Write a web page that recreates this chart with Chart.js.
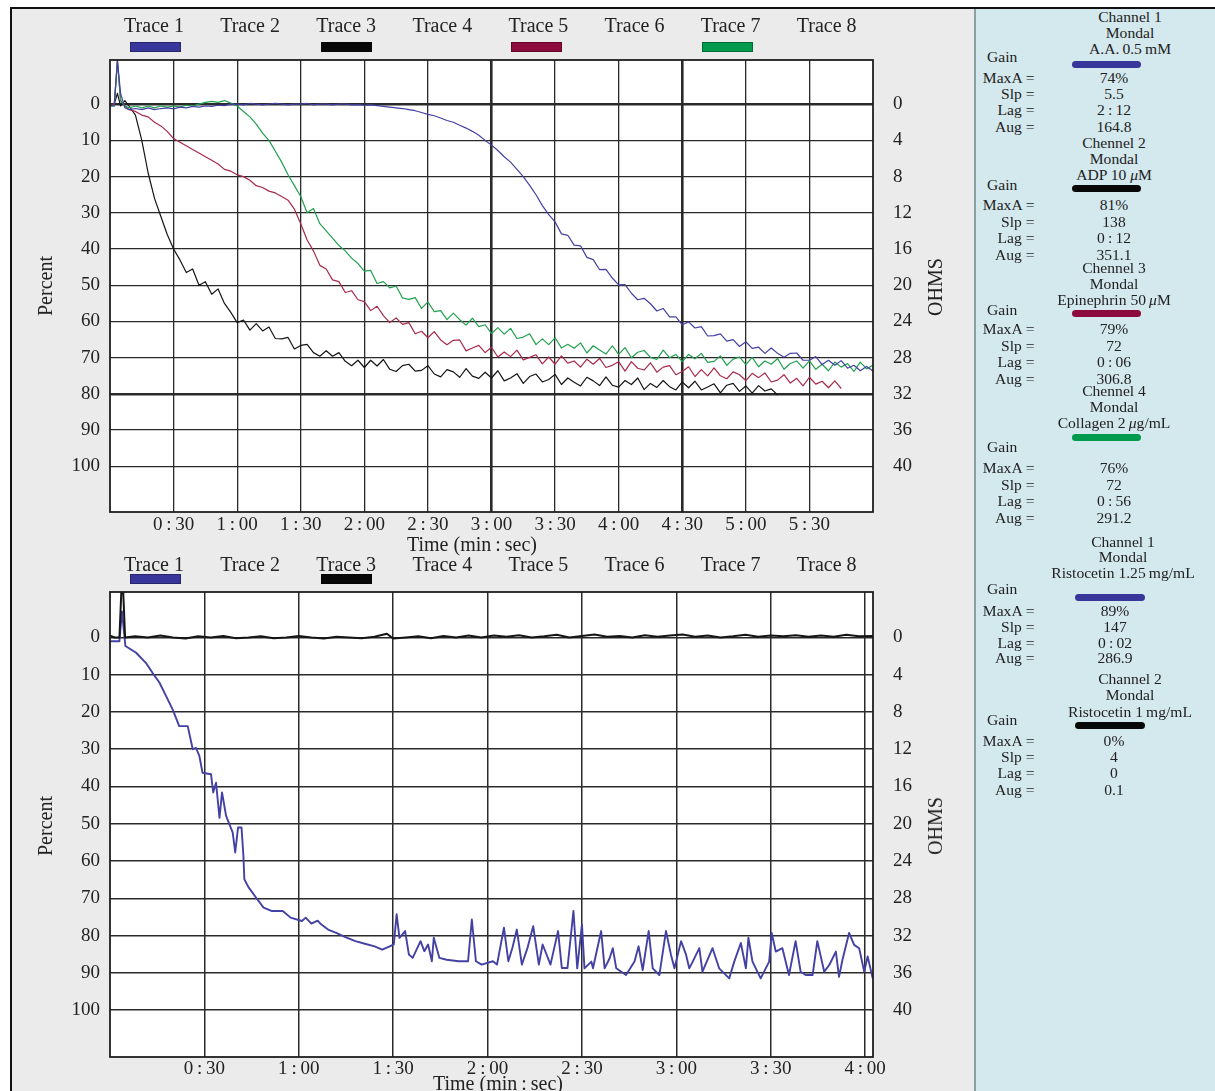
<!DOCTYPE html>
<html>
<head>
<meta charset="utf-8">
<script src="https://cdn.jsdelivr.net/npm/chart.js@4.4.1/dist/chart.umd.min.js"></script>
<style>
  body { margin: 0; width: 1215px; height: 1091px; overflow: hidden; background: #fff;
         font-family: 'Liberation Serif', 'DejaVu Serif', serif; color: #222; position: relative; }
  #frame { position: absolute; left: 10px; top: 7px; width: 1205px; height: 1084px;
           border-top: 2px solid #111; border-left: 2px solid #111; background: #ebebeb; }
  #panel { position: absolute; left: 974px; top: 9px; width: 241px; height: 1082px;
           background: #d4e9ee; border-left: 2px solid #8d9ea4; }
  canvas { position: absolute; left: 12px; }
  #topChart { top: 10px; }
  #bottomChart { top: 550px; }
  .t { position: absolute; white-space: nowrap; line-height: 1; }
  .bar { position: absolute; height: 10px; box-sizing: border-box; border: 1px solid rgba(0,0,0,0.3); }
  .pill { position: absolute; height: 7px; border-radius: 3.5px; }
</style>
</head>
<body>
<div id="frame"></div>
<div id="panel"></div>
<canvas id="topChart" width="960" height="540"></canvas>
<canvas id="bottomChart" width="960" height="541"></canvas>
<script>
'use strict';

/* Axis ticks */
const percentTicks = [0, 10, 20, 30, 40, 50, 60, 70, 80, 90, 100];
const ohmTicks = [0, 4, 8, 12, 16, 20, 24, 28, 32, 36, 40];
const topTimeTicks = [30, 60, 90, 120, 150, 180, 210, 240, 270, 300, 330];
const topTimeLabels = ['0:30', '1:00', '1:30', '2:00', '2:30', '3:00', '3:30', '4:00', '4:30', '5:00', '5:30'];
const bottomTimeTicks = [30, 60, 90, 120, 150, 180, 210, 240];
const bottomTimeLabels = ['0:30', '1:00', '1:30', '2:00', '2:30', '3:00', '3:30', '4:00'];
const traceNames = ['Trace 1', 'Trace 2', 'Trace 3', 'Trace 4', 'Trace 5', 'Trace 6', 'Trace 7', 'Trace 8'];

/* Top chart: sample times (s) shared by the four traces */
const topTimes = [0, 2, 3.5, 5, 7, 9, 12, 15, 18, 21, 24, 27,
  30, 33, 36, 39, 42, 45, 48, 51, 54, 57,
  60, 63, 66, 69, 72, 75, 78, 81, 84, 87,
  90, 93, 96, 99, 102, 105, 108, 111, 114, 117,
  120, 123, 126, 129, 132, 135, 138, 141, 144, 147,
  150, 153, 156, 159, 162, 165, 168, 171, 174, 177,
  180, 183, 186, 189, 192, 195, 198, 201, 204, 207,
  210, 213, 216, 219, 222, 225, 228, 231, 234, 237,
  240, 243, 246, 249, 252, 255, 258, 261, 264, 267,
  270, 273, 276, 279, 282, 285, 288, 291, 294, 297,
  300, 303, 306, 309, 312, 315, 318, 321, 324, 327,
  330, 333, 336, 339, 342, 345, 348, 351, 354, 357,
  360];

// Trace 1 - A.A. 0.5 mM (percent)
const topBlue = [0.5, 0.5, -12, -3, 1, 1.5, 1.2, 1.5, 1, 1.5, 1.2, 1,
  1.3, 0.8, 1, 0.6, 0.8, 0.5, 0.6, 0.3, 0.4, 0,
  0, 0.2, -0.2, 0, 0.2, 0, -0.2, 0, 0.2, 0,
  0, -0.2, 0.2, 0, 0, 0.2, 0, 0, 0.2, 0.1,
  0.3, 0.2, 0.4, 0.6, 0.8, 1, 1.2, 1.5, 1.8, 2.3,
  2.8, 3.2, 3.8, 4.5, 5, 5.8, 6.6, 7.5, 8.6, 10,
  11.3, 12.8, 14.5, 16, 18, 20, 22.4, 25, 28, 30.5,
  32.5, 35.8, 36.2, 38.9, 39.1, 42.3, 42.9, 45.7, 45.6, 48,
  49.9, 49.8, 52.2, 54, 53.6, 55.1, 57.1, 56.4, 58.7, 58.7,
  60.9, 60.1, 61.8, 61.4, 64, 63.9, 63.4, 65.4, 65, 66.9,
  65.6, 67.4, 67.1, 68.8, 67.3, 68.8, 69.9, 68.8, 68.7, 70.7,
  70.7, 69.7, 71.9, 70.7, 72.1, 70.8, 72.9, 72.1, 73.6, 72.4,
  73.7];

// Trace 3 - ADP 10 uM
const topBlack = [0.5, 0, -3, 0.5, -1, 0.5, 3, 10, 19, 26, 31, 36,
  40, 43, 46.5, 45.5, 50, 49, 52.5, 51, 55, 57.5,
  60.3, 59.6, 62.4, 60.6, 62.6, 61.5, 64.7, 64.8, 64.4, 67.6,
  66.6, 66.3, 68.6, 69.6, 68.1, 69.6, 68.6, 71, 72.2, 70.7,
  72.7, 70.7, 72.3, 70.5, 73.2, 73.8, 72.2, 71.8, 73.7, 73.5,
  72.2, 74.5, 75.3, 73.3, 73.9, 75.4, 73, 75.1, 75.7, 74,
  75.6, 73.6, 76.4, 75.6, 74.4, 77.1, 75.2, 74.5, 76.7, 76,
  74.6, 77.4, 75.6, 76.8, 77.8, 75.4, 76.4, 77.7, 75.3, 77.6,
  78.1, 76.3, 77.4, 75.6, 78.8, 77.1, 78.2, 76.3, 78, 78.9,
  76.7, 78.3, 76.5, 78.9, 78.1, 77.2, 79.7, 77.6, 77.1, 79.3,
  77.8, 79.8, 77.7, 79.2, 78.6, 80.3, null, null, null, null,
  null, null, null, null, null, null, null, null, null, null,
  null];

// Trace 5 - Epinephrin 50 uM
const topRed = [0, 0, -12, -1, 0.5, 1.5, 2, 3, 3.5, 5, 6, 7.5,
  9.5, 10.5, 11.5, 12.5, 13.5, 14.5, 15.5, 16.5, 18, 18.5,
  19.5, 20, 21, 22.5, 23, 24, 24.5, 25.5, 26.5, 29,
  33, 37.5, 40.5, 44.5, 45.5, 48.5, 49, 52, 51.5, 54,
  54.5, 57, 55.8, 58.4, 60.3, 59, 60.8, 60.3, 63.4, 62.7,
  64.5, 62.8, 65.1, 66.4, 65.2, 65.1, 68.1, 67.3, 66.6, 68.6,
  67.1, 69.8, 68.4, 69.7, 67.9, 70.6, 69.9, 69.2, 71.7, 69.8,
  71.8, 69.5, 71.5, 70.9, 72.6, 70.4, 71.8, 70.2, 72.7, 72.1,
  71.1, 73.7, 71.1, 72.9, 73.4, 71.4, 74, 72.6, 72.2, 74.7,
  73.8, 72.5, 75.2, 73.3, 75, 72.8, 75, 75.8, 73.9, 74.7,
  76.3, 74.3, 75.5, 74.2, 76.7, 76.2, 74.7, 77, 75.7, 77.8,
  75.4, 77.3, 76.5, 78.3, 76.4, 78.5, null, null, null, null,
  null];

// Trace 7 - Collagen 2 ug/mL
const topGreen = [0.5, 0.5, -12, -1, 0.5, 1, 0.5, 1, 0.5, 1, 0.5, 0.8,
  0.5, 0.8, 0.3, 0.5, 0, -0.5, -0.8, -0.5, -1, -0.3,
  0.5, 2, 3.5, 5.5, 8, 10, 13, 16, 19.5, 22.5,
  25.5, 30, 28.8, 33, 35, 37, 39, 40.5, 42.5, 44,
  46.1, 45.9, 49.5, 49, 50.7, 50.2, 53.5, 53.9, 53.4, 56.4,
  54.6, 57.3, 57, 59.5, 57.7, 59.5, 61, 59.1, 61.4, 60.9,
  63.3, 61.7, 63.5, 61.9, 64.7, 64.3, 63.4, 66.4, 64.8, 66.4,
  64.5, 67.3, 66.3, 67.4, 65.9, 68.7, 66.7, 67.9, 69, 66.7,
  69.1, 67.2, 70, 68.5, 68, 69.9, 70.5, 67.9, 70, 69.1,
  71.1, 69.1, 70.3, 68.8, 71.3, 71, 69.5, 72.1, 70.4, 69.8,
  71.9, 69.9, 72.5, 70.9, 71.8, 70.2, 73.2, 71.6, 70.9, 72.9,
  70.9, 73.2, 71.8, 73.6, 71.2, 72.6, 71.6, 73.8, 71.2, 73.1,
  72];

/* Bottom chart */
// Trace 1 - Ristocetin 1.25 mg/mL
const bottomBlueTimes = [0, 3, 3.8, 4.9, 8.3, 11.4, 13.5, 15.7, 17.8, 19.9,
  22, 24.7, 26.3, 27.3, 28.4, 29.4, 32.1, 32.8, 33.7, 34.8,
  35.6, 36.9, 39, 39.8, 40.7, 41.8, 42.4, 42.7, 44, 46.4,
  48.8, 51.3, 54.9, 57.4, 61, 62.2, 64, 66, 67.1, 69.5,
  71.9, 75, 78, 81, 84.1, 86.5, 88.9, 90.2, 91.1, 92,
  93.8, 95, 96.2, 98.7, 99.9, 101.1, 102.3, 102.9, 104.7, 107,
  110.8, 113.8, 115, 116.3, 118.1, 121.7, 123, 125.2, 126.6, 127.9,
  129.3, 130.9, 132.7, 134.5, 136.3, 137.5, 140, 142.4, 143.6, 145.4,
  147.3, 148.5, 150, 150.8, 153, 153.5, 156.1, 157.2, 158.8, 159.8,
  160.9, 164, 166.7, 168, 169.3, 171.2, 172.5, 174.6, 176.7, 178.3,
  179.4, 181.5, 183.1, 184.1, 185.2, 187.3, 188.3, 191.5, 193.6, 196.8,
  198.4, 200.5, 202.1, 202.9, 204.2, 206.8, 209.5, 210.3, 211.6, 213.7,
  215.8, 217.9, 219.5, 221.1, 223.3, 224.8, 227, 228.6, 230.7, 231.7,
  232.8, 234.9, 236.5, 238.1, 239.7, 240.8, 242.4];
const bottomBlueValues = [1, 1, -7, 2.3, 4.1, 6.8, 9.5, 12.1, 15.7, 19.3,
  23.8, 23.8, 30, 29.6, 31.8, 36.3, 36.7, 41.6, 39, 48.4,
  41.6, 47.9, 52.4, 57.7, 51, 51, 58.6, 64.9, 67, 69.8,
  72.5, 73.4, 73.4, 75.2, 76.1, 75.2, 76.8, 76, 77, 78.5,
  79.3, 80.5, 81.5, 82.2, 82.9, 83.8, 82.9, 82.4, 74.3, 80.6,
  78.8, 85.1, 86, 81.5, 84.2, 82.4, 86.9, 80.6, 86, 86.5,
  86.9, 86.9, 75.7, 86.9, 87.8, 86.9, 87.8, 77.9, 86.9, 83.3,
  78.4, 87.8, 83.3, 77.5, 87.8, 82.4, 87.8, 78.8, 88.7, 88.7,
  73.4, 88.8, 77, 88.8, 87, 88.8, 78.8, 88.8, 86.1, 83.4,
  88.8, 90.6, 87, 82.9, 89.3, 78.8, 88.8, 90.6, 78.8, 85.2,
  88.8, 81.5, 85.2, 88.8, 87, 83.4, 89.7, 83.4, 88.8, 91.5,
  87, 82, 88.8, 80.6, 87, 91.5, 87, 79.3, 84.3, 83.4,
  90.6, 81.5, 89.7, 90.6, 90.6, 81.5, 89.7, 87.9, 84.3, 91.1,
  86.5, 79.3, 82.5, 83.4, 89.7, 85.6, 91.5];

// Trace 3 - Ristocetin 1 mg/mL
const bottomBlackTimes = [0, 1.5, 3, 3.6, 4.2, 4.8, 8, 12, 16, 20,
  24, 28, 32, 36, 40, 44, 48, 52, 56, 60,
  64, 68, 72, 76, 80, 84, 88, 90, 94, 98,
  102, 106, 110, 114, 118, 122, 126, 130, 134, 138,
  142, 146, 150, 154, 158, 162, 166, 170, 174, 178,
  182, 186, 190, 194, 198, 202, 206, 210, 214, 218,
  222, 226, 230, 234, 238, 242.5];
const bottomBlackValues = [-0.5, 0, 0, -12.3, -12.3, 0, -0.3, 0, -0.5, 0,
  0.3, -0.3, 0, -0.4, 0.2, 0, -0.3, 0.2, 0, -0.4,
  0, 0.3, -0.2, 0, 0.2, -0.2, -1, 0.3, 0, -0.3,
  0.2, -0.4, 0, -0.5, 0, -0.5, -0.2, -0.6, 0, -0.3,
  -0.7, 0, -0.4, -0.8, -0.2, -0.4, 0, -0.6, -0.2, -0.5,
  -0.8, -0.2, -0.5, 0, -0.3, -0.7, -0.2, -0.5, -0.3, -0.6,
  -0.2, -0.5, -0.2, -0.7, -0.3, -0.4];

/* Side panel text */
const panelChannels = [
  { head: ['Channel 1', 'Mondal', 'A.A.\u20090.5\u2009mM'], stats: ['74%', '5.5', '2\u2009:\u200912', '164.8'] },
  { head: ['Chennel 2', 'Mondal', 'ADP 10 <i>\u03bc</i>M'], stats: ['81%', '138', '0\u2009:\u200912', '351.1'] },
  { head: ['Chennel 3', 'Mondal', 'Epinephrin 50\u2009<i>\u03bc</i>M'], stats: ['79%', '72', '0\u2009:\u200906', '306.8'] },
  { head: ['Chennel 4', 'Mondal', 'Collagen 2\u2009<i>\u03bc</i>g/mL'], stats: ['76%', '72', '0\u2009:\u200956', '291.2'] },
  { head: ['Channel 1', 'Mondal', 'Ristocetin 1.25\u2009mg/mL'], stats: ['89%', '147', '0\u2009:\u200902', '286.9'] },
  { head: ['Channel 2', 'Mondal', 'Ristocetin 1\u2009mg/mL'], stats: ['0%', '4', '0', '0.1'] },
];
const statNames = ['MaxA =', 'Slp =', 'Lag =', 'Aug ='];

/* Colours */
const blue = '#4341a4';
const black = '#151515';
const red = '#a82a4a';
const green = '#21a04e';
const swatch = { blue: '#38369a', black: '#080808', red: '#8c0a3c', green: '#009a4c' };
const topSwatches = [swatch.blue, null, swatch.black, null, swatch.red, null, swatch.green, null];
const bottomSwatches = [swatch.blue, null, swatch.black, null, null, null, null, null];
const panelColors = [swatch.blue, swatch.black, swatch.red, swatch.green, swatch.blue, swatch.black];

/* Layout of the side panel lines */
const panelLayout = [
  { hx: 1130, hy: [17, 33, 49], gy: 57, by: 64, bx: 1072, bw: 69, sy: [78, 94, 110, 126.5], vx: 1114 },
  { hx: 1114, hy: [143, 159, 175], gy: 185, by: 188.5, bx: 1072, bw: 69, sy: [205, 221.5, 238, 255], vx: 1114 },
  { hx: 1114, hy: [267.5, 284, 300], gy: 310, by: 313, bx: 1072, bw: 69, sy: [329, 346, 362, 379], vx: 1114 },
  { hx: 1114, hy: [391, 407, 423], gy: 447, by: 437, bx: 1072, bw: 69, sy: [468, 485, 501, 518], vx: 1114 },
  { hx: 1123, hy: [541.5, 557, 573], gy: 589, by: 597, bx: 1075, bw: 70, sy: [611, 627, 643, 658], vx: 1115 },
  { hx: 1130, hy: [679, 695, 711.5], gy: 720, by: 725, bx: 1075, bw: 70, sy: [741, 757, 773, 790], vx: 1114 },
];

const Y_MIN = -12.2;
const Y_MAX = 112.6;
const OHM_PER_PERCENT = 0.4;

function addText(html, cx, cy, size, anchor, rotate) {
  const el = document.createElement('div');
  el.className = 't';
  el.innerHTML = html;
  el.style.left = cx + 'px';
  el.style.top = cy + 'px';
  el.style.fontSize = size + 'px';
  const tx = anchor === 'right' ? '-100%' : anchor === 'left' ? '0' : '-50%';
  el.style.transform = `translate(${tx}, -50%)` + (rotate ? ` rotate(${rotate}deg)` : '');
  document.body.appendChild(el);
}

function addTraceHeader(y, barTop, swatches) {
  traceNames.forEach((name, i) => {
    addText(name, 154 + 96.1 * i, y, 20);
    if (swatches[i]) {
      const b = document.createElement('div');
      b.className = 'bar';
      b.style.left = (130 + 95.3 * i) + 'px';
      b.style.top = barTop + 'px';
      b.style.width = '51px';
      b.style.background = swatches[i];
      document.body.appendChild(b);
    }
  });
}

const plotFrame = {
  id: 'plotFrame',
  beforeDraw(chart) {
    const { ctx, chartArea: a } = chart;
    ctx.save();
    ctx.fillStyle = '#ffffff';
    ctx.fillRect(a.left, a.top, a.width, a.height);
    ctx.restore();
  },
  afterDraw(chart) {
    const { ctx, chartArea: a } = chart;
    ctx.save();
    ctx.strokeStyle = '#1e1e1e';
    ctx.lineWidth = 1.8;
    ctx.strokeRect(a.left, a.top, a.width, a.height);
    ctx.restore();
  },
};

const toPoints = (times, values) => times.map((t, i) => ({ x: t, y: values[i] }));

const drawChart = (canvas, opts) => {
  const gridWidth = (bold, normal, heavy) => (ctx) => (bold.includes(ctx.tick.value) ? heavy : normal);
  return new Chart(canvas, {
    type: 'line',
    data: { datasets: opts.datasets },
    plugins: [plotFrame],
    options: {
      responsive: false,
      animation: false,
      layout: { padding: { top: opts.padTop, left: 0, right: 0, bottom: 0 } },
      elements: { point: { radius: 0 }, line: { tension: 0, borderJoinStyle: 'round' } },
      plugins: { legend: { display: false }, tooltip: { enabled: false } },
      scales: {
        x: {
          type: 'linear', min: 0, max: opts.xMax,
          afterBuildTicks: (ax) => { ax.ticks = opts.xTicks.map((v) => ({ value: v })); },
          afterFit: (ax) => { ax.height = opts.xAxisHeight; },
          ticks: {
            autoSkip: false, maxRotation: 0, padding: opts.xPad, color: '#222', font: { size: 19 },
            callback: (v, i) => opts.xLabels[i].replace(':', '\u2009:\u2009'),
          },
          grid: { color: '#2a2a2a', drawTicks: false, lineWidth: gridWidth(opts.boldX, opts.gridW, 2.6) },
          border: { display: false },
        },
        y: {
          position: 'left', reverse: true, min: Y_MIN, max: Y_MAX,
          afterBuildTicks: (ax) => { ax.ticks = percentTicks.map((v) => ({ value: v })); },
          afterFit: (ax) => { ax.width = 98; },
          ticks: { autoSkip: false, padding: 10, color: '#222', font: { size: 19 } },
          grid: { color: '#2a2a2a', drawTicks: false, lineWidth: gridWidth(opts.boldY, opts.gridW, 2.6) },
          border: { display: false },
        },
        y2: {
          position: 'right', reverse: true,
          min: Y_MIN * OHM_PER_PERCENT, max: Y_MAX * OHM_PER_PERCENT,
          afterBuildTicks: (ax) => { ax.ticks = ohmTicks.map((v) => ({ value: v })); },
          afterFit: (ax) => { ax.width = 99; },
          ticks: { autoSkip: false, padding: 12, color: '#222', font: { size: 19 } },
          grid: { display: false },
          border: { display: false },
        },
      },
    },
  });
};

Chart.defaults.font.family = "'Liberation Serif', 'DejaVu Serif', serif";

drawChart(document.querySelector('#topChart'), {
  padTop: 50, xAxisHeight: 38, xPad: 2, xMax: 360,
  xTicks: topTimeTicks, xLabels: topTimeLabels,
  boldX: [180, 270], boldY: [0, 80], gridW: 1.3,
  datasets: [
    { label: 'Trace 1', data: toPoints(topTimes, topBlue), borderColor: blue, borderWidth: 1.2 },
    { label: 'Trace 7', data: toPoints(topTimes, topGreen), borderColor: green, borderWidth: 1.2 },
    { label: 'Trace 5', data: toPoints(topTimes, topRed), borderColor: red, borderWidth: 1.2 },
    { label: 'Trace 3', data: toPoints(topTimes, topBlack), borderColor: black, borderWidth: 1.2 },
  ],
});

drawChart(document.querySelector('#bottomChart'), {
  padTop: 42, xAxisHeight: 34, xPad: 1, xMax: 242.5,
  xTicks: bottomTimeTicks, xLabels: bottomTimeLabels,
  boldX: [], boldY: [], gridW: 1.5,
  datasets: [
    { label: 'Trace 3', data: toPoints(bottomBlackTimes, bottomBlackValues), borderColor: black, borderWidth: 2 },
    { label: 'Trace 1', data: toPoints(bottomBlueTimes, bottomBlueValues), borderColor: blue, borderWidth: 1.9 },
  ],
});

/* Headers, axis titles */
addTraceHeader(25, 42, topSwatches);
addTraceHeader(564, 574, bottomSwatches);
addText('Percent', 45, 286, 20, 'center', -90);
addText('Percent', 45, 826, 20, 'center', -90);
addText('OHMS', 935, 287, 20, 'center', -90);
addText('OHMS', 935, 826, 20, 'center', -90);
addText('Time (min\u2009:\u2009sec)', 472, 544, 20);
addText('Time (min\u2009:\u2009sec)', 498, 1083, 20);

/* Side panel */
panelChannels.forEach((ch, k) => {
  const L = panelLayout[k];
  ch.head.forEach((h, j) => addText(h, L.hx, L.hy[j], 15.6));
  addText('Gain', 987, L.gy, 15.6, 'left');
  const p = document.createElement('div');
  p.className = 'pill';
  p.style.left = L.bx + 'px';
  p.style.top = (L.by - 3.5) + 'px';
  p.style.width = L.bw + 'px';
  p.style.background = panelColors[k];
  document.body.appendChild(p);
  statNames.forEach((s, j) => {
    addText(s, 1034.5, L.sy[j], 15.6, 'right');
    addText(ch.stats[j], L.vx, L.sy[j], 15.6);
  });
});
</script>
</body>
</html>
